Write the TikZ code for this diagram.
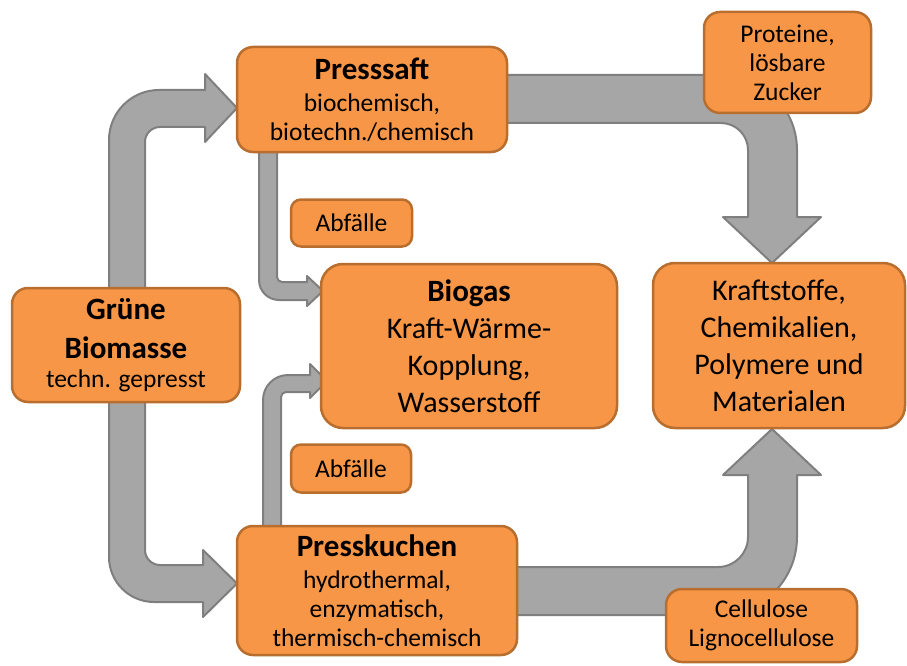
\documentclass[tikz,border=0pt]{standalone}
\usepackage{fontspec}
\setmainfont{Carlito}
\usetikzlibrary{backgrounds}
\definecolor{boxfill}{HTML}{F79646}
\definecolor{boxline}{HTML}{B86E2E}
\definecolor{arrowfill}{HTML}{A6A6A6}
\definecolor{arrowline}{HTML}{7F7F7F}
\tikzset{
  box/.style={draw=boxline, fill=boxfill, line width=2.5pt, rounded corners=16pt,
    align=center, inner sep=2pt, text=black, font=\fontsize{25.5}{29}\selectfont},
  bigtext/.style={font=\fontsize{30}{37}\selectfont},
  blockarrow/.style={draw=arrowline, fill=arrowfill, line width=2pt, line join=round}
}
\newcommand{\ttl}[1]{\textbf{\fontsize{31}{34}\selectfont #1}}
\begin{document}
\begin{tikzpicture}[x=1pt,y=-1pt]
\useasboundingbox (0,0) rectangle (907,666);

% process boxes
\node[box, minimum width=228pt, minimum height=114pt] (gruen) at (126,345)
  {\ttl{Grüne}\\[10pt]\ttl{Biomasse}\\ techn. gepresst};
\node[box, minimum width=270pt, minimum height=105pt] (saft) at (372,99.5)
  {\ttl{Presssaft}\\[3pt] biochemisch,\\ biotechn./chemisch};
\node[box, minimum width=167pt, minimum height=101pt] (prot) at (787.5,62.5)
  {Proteine,\\ lösbare\\ Zucker};
\node[box, minimum width=121pt, minimum height=47pt, rounded corners=10pt] (abf1) at (351.5,223)
  {Abfälle};
\node[box, bigtext, minimum width=296pt, minimum height=164pt, rounded corners=22pt] (biogas) at (469,346)
  {\ttl{Biogas}\\ Kraft-Wärme-\\ Kopplung,\\ Wasserstoff};
\node[box, bigtext, minimum width=252pt, minimum height=165pt, rounded corners=22pt] (kraft) at (779,345.5)
  {Kraftstoffe,\\ Chemikalien,\\ Polymere und\\ Materialen};
\node[box, minimum width=120pt, minimum height=48pt, rounded corners=10pt] (abf2) at (351,468.5)
  {Abfälle};
\node[box, minimum width=280pt, minimum height=129pt] (kuchen) at (377,590.5)
  {\ttl{Presskuchen}\\[3pt] hydrothermal,\\ enzymatisch,\\ thermisch-chemisch};
\node[box, minimum width=191pt, minimum height=73pt] (cell) at (761.5,625.5)
  {Cellulose\\ Lignocellulose};

\begin{scope}[on background layer]
% Grüne Biomasse -> Presssaft
\draw[blockarrow] (109,300) -- (109,140) arc[start angle=180, end angle=270, radius=50]
  -- (205,90) -- (205,74) -- (237,108) -- (205,142) -- (205,127) -- (160,127)
  arc[start angle=270, end angle=180, radius=15] -- (145,300) -- cycle;
% Grüne Biomasse -> Presskuchen
\draw[blockarrow] (109,395) -- (109,557) arc[start angle=180, end angle=90, radius=45]
  -- (203,602) -- (203,617) -- (237,583.5) -- (203,550) -- (203,565) -- (160,565)
  arc[start angle=90, end angle=180, radius=15] -- (145,395) -- cycle;
% Presssaft -> Kraftstoffe
\draw[blockarrow] (500,75) -- (722,75) arc[start angle=270, end angle=360, radius=75]
  -- (797,217) -- (821,217) -- (772,263) -- (723,217) -- (748,217) -- (748,150)
  arc[start angle=0, end angle=-90, radius=27] -- (500,123) -- cycle;
% Presskuchen -> Kraftstoffe
\draw[blockarrow] (510,567) -- (718,567) arc[start angle=90, end angle=0, radius=30]
  -- (748,475) -- (723,475) -- (772,429) -- (821,475) -- (797,475) -- (797,537)
  arc[start angle=0, end angle=90, radius=78] -- (510,615) -- cycle;
% Presssaft -> Biogas
\draw[blockarrow] (259,150) -- (259,280) arc[start angle=180, end angle=90, radius=20]
  -- (307,300) -- (307,306) -- (323,291) -- (307,276) -- (307,282) -- (282,282)
  arc[start angle=90, end angle=180, radius=5] -- (277,150) -- cycle;
% Presskuchen -> Biogas
\draw[blockarrow] (263,535) -- (263,400) arc[start angle=180, end angle=270, radius=25]
  -- (310,375) -- (310,364) -- (327,381) -- (310,398) -- (310,392) -- (286,392)
  arc[start angle=270, end angle=180, radius=5] -- (281,535) -- cycle;
\end{scope}
\end{tikzpicture}
\end{document}
